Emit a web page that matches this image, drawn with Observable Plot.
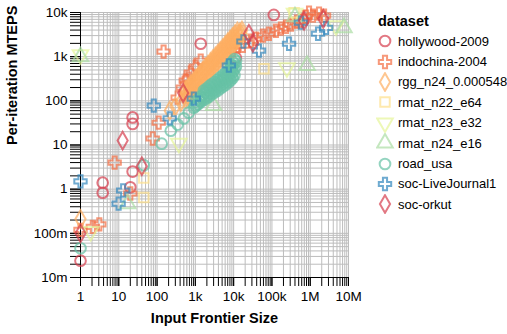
<!DOCTYPE html>
<html>
<head>
<meta charset="utf-8">
<script src="https://cdn.jsdelivr.net/npm/d3@7"></script>
<script src="https://cdn.jsdelivr.net/npm/@observablehq/plot@0.6"></script>
<style>
  body { margin: 0; background: #fff; font-family: Arial, "Liberation Sans", Helvetica, sans-serif; }
  #wrap { position: relative; width: 507px; height: 334px; overflow: hidden; }
  #chart { position: absolute; left: 0; top: 0; }
  #legend { position: absolute; left: 376px; top: 11px; color: #000; }
  #legend .title { font-weight: bold; font-size: 14.5px; height: 20px; line-height: 20px; margin-left: 2px; }
  #legend .row { display: flex; align-items: center; height: 20.4px; font-size: 13px; }
  #legend .row svg { width: 22px; height: 20px; flex: none; }
</style>
</head>
<body>
<div id="wrap"><div id="chart"></div><div id="legend"></div></div>
<script>
// ---- data (Input Frontier Size, Per-iteration MTEPS) ----
const datasetNames = ["hollywood-2009", "indochina-2004", "rgg_n24_0.000548", "rmat_n22_e64", "rmat_n23_e32", "rmat_n24_e16", "road_usa", "soc-LiveJournal1", "soc-orkut"];
const datasetColors = ["#d53e4f", "#f46d43", "#fdae61", "#fee08b", "#e6f598", "#abdda4", "#66c2a5", "#3288bd", "#d53e4f"];

const hollywood = [[1,0.024],[3.8,1.4],[3.8,0.83],[20,1.1],[23,2.5],[23,42],[23,30],[1380,1960],[11400,950],[112000,8800]];
const indochina = [[1,0.12],[2.1,0.14],[3.1,0.16],[7.8,4.0],[20,0.8],[77,14],[110,32],[148,1300],[345,118],[468,199],[561,286],[670,318],[758,435],[1020,594],[1380,812],[9530,1370],[12900,1770],[17400,1770],[28200,2300],[38100,2550],[58100,2990],[83400,3310],[127000,3870],[172000,4300],[232000,4770],[314000,5300],[451000,6190],[574000,6520],[776000,8030],[931000,9890],[1180000,8470],[1700000,9400],[2300000,8470]];
const rgg = [[1,0.21],[214,60],[300,75],[420,95],
  [560,110],[560,140],[560,175],[650,130],[650,165],[650,200],[760,150],[760,190],[760,235],
  [880,175],[880,220],[880,270],[1020,200],[1020,255],[1020,310],[1180,235],[1180,295],[1180,360],
  [1370,270],[1370,340],[1370,420],[1590,310],[1590,395],[1590,490],[1840,360],[1840,460],[1840,560],
  [2130,420],[2130,530],[2130,650],[2470,490],[2470,610],[2470,750],[2860,560],[2860,710],[2860,870],
  [3320,650],[3320,820],[3320,1000],[3850,750],[3850,950],[3850,1160],[4460,870],[4460,1100],[4460,1340],
  [5170,1000],[5170,1270],[5170,1550],[6000,1160],[6000,1470],[6000,1800],[6950,1350],[6950,1700],[6950,2080],
  [8050,1560],[8050,1970],[8050,2400],[9330,1800],[9330,2280],[9330,2780],[10800,2090],[10800,2640],[10800,3200],
  [12500,2420],[12500,3050],[12500,3700],[14500,2800],[14500,3500],[16500,3200],[16500,3900]];
const rmat22 = [[45,1.8],[45,0.65],[62000,535],[380000,9900]];
const rmat23 = [[1,1100],[1.85,0.11],[370,11],[246000,560],[390000,9600],[4700000,5000]];
const rmat24 = [[1,1000],[17,0.47],[3000,78],[830000,630],[400000,8000],[7600000,4500]];
const road = [[1,0.046],[45,3.5],[132,10.7],[228,21],[345,29],[500,40],[670,54],[910,70],
  [1000,75],[1000,95],[1100,82],[1200,85],[1200,110],[1300,100],[1400,95],[1400,125],[1520,115],[1650,105],[1650,140],[1650,170],
  [1800,125],[1800,160],[1950,115],[1950,150],[1950,190],[2100,135],[2100,175],[2300,125],[2300,165],[2300,215],
  [2500,150],[2500,200],[2700,140],[2700,185],[2700,240],[2950,170],[2950,220],
  [3200,155],[3200,205],[3200,265],[3500,185],[3500,245],[3800,170],[3800,230],[3800,300],[4150,210],[4150,280],
  [4500,190],[4500,260],[4500,340],[4900,230],[4900,310],[5300,210],[5300,290],[5300,380],[5750,255],[5750,350],
  [6200,230],[6200,320],[6200,430],[6700,290],[6700,390],[7200,260],[7200,360],[7200,480],[7750,320],[7750,440],
  [8300,290],[8300,400],[8300,540],[8300,680],[8900,360],[8900,500],[8900,620],[9500,330],[9500,450],[9500,610],[9500,780],
  [10500,380],[10500,520],[10500,700],[10500,880],[11500,600],[11500,800]];
const socLJ = [[1,1.5],[9.9,0.47],[13,0.93],[82,78],[214,40],[910,112],[7500,630],[18000,2200],[46000,1370],[280000,1960],[570000,5900],[1600000,3300],[2600000,4500]];
const socOrkut = [[1,0.1],[12.6,12.6],[40,3.3],[480,150],[25000,3310],[31800,2070],[690000,6500],[2200000,7200]];

const seriesData = [hollywood, indochina, rgg, rmat22, rmat23, rmat24, road, socLJ, socOrkut];

const xTicks = [1, 10, 100, 1e3, 1e4, 1e5, 1e6, 1e7];
const yTicks = [0.01, 0.1, 1, 10, 100, 1e3, 1e4];

// ---- symbols ----
const sqrt3 = Math.sqrt(3);
const triUp = { draw(ctx, size) { const y = -Math.sqrt(size / (sqrt3 * 3)); ctx.moveTo(0, y * 2); ctx.lineTo(-sqrt3 * y, -y); ctx.lineTo(sqrt3 * y, -y); ctx.closePath(); } };
const triDown = { draw(ctx, size) { const y = -Math.sqrt(size / (sqrt3 * 3)); ctx.moveTo(0, -y * 2); ctx.lineTo(-sqrt3 * y, y); ctx.lineTo(sqrt3 * y, y); ctx.closePath(); } };
const symbols = [d3.symbolCircle, d3.symbolCross, d3.symbolDiamond, d3.symbolSquare, triDown, triUp, d3.symbolCircle, d3.symbolCross, d3.symbolDiamond];
const symbolSizes = [90, 85, 90, 90, 105, 105, 90, 85, 90];

const fmt = d3.format("~s");
const xMinor = d3.scaleLog().domain([1, 1e7]).ticks();
const yMinor = d3.scaleLog().domain([0.01, 1e4]).ticks();

const dotMarks = seriesData.map((data, i) => Plot.dot(data, {
  x: d => d[0], y: d => d[1],
  symbol: symbols[i],
  r: Math.sqrt(symbolSizes[i] / Math.PI),
  fill: "none",
  stroke: datasetColors[i],
  strokeWidth: 2,
  strokeOpacity: 0.7
}));

const chart = Plot.plot({
  width: 370,
  height: 334,
  marginLeft: 80,
  marginRight: 22,
  marginTop: 12,
  marginBottom: 57,
  style: { fontFamily: "Arial, 'Liberation Sans', Helvetica, sans-serif", fontSize: "13.5px", background: "#fff", color: "#000" },
  x: { type: "log", domain: [1, 1e7] },
  y: { type: "log", domain: [0.01, 1e4] },
  marks: [
    Plot.gridX(xMinor, { stroke: "#bdbdbd", strokeOpacity: 1 }),
    Plot.gridY(yMinor, { stroke: "#bdbdbd", strokeOpacity: 1 }),
    Plot.axisX(xMinor, { tickSize: 9, fill: "none", label: null, stroke: "#000" }),
    Plot.axisX(xTicks, { tickSize: 9, tickPadding: 5, tickFormat: fmt, label: null, stroke: "#000", fill: "#000" }),
    Plot.axisY(yMinor, { tickSize: 10, fill: "none", label: null, stroke: "#000" }),
    Plot.axisY(yTicks, { tickSize: 10, tickPadding: 3, tickFormat: fmt, label: null, stroke: "#000", fill: "#000" }),
    Plot.ruleX([1], { stroke: "#000" }),
    Plot.ruleY([0.01], { stroke: "#000" }),
    ...dotMarks,
    Plot.text(["Input Frontier Size"], { text: d => d, frameAnchor: "bottom", dy: 45, fontWeight: "bold", fontSize: 14.5, fill: "#000" }),
    Plot.text(["Per-iteration MTEPS"], { text: d => d, frameAnchor: "left", dx: -68, rotate: -90, fontWeight: "bold", fontSize: 14.5, fill: "#000" })
  ]
});
document.getElementById("chart").appendChild(chart);

// ---- legend ----
const legend = document.getElementById("legend");
const t = document.createElement("div");
t.className = "title";
t.textContent = "dataset";
legend.appendChild(t);
datasetNames.forEach((name, i) => {
  const row = document.createElement("div");
  row.className = "row";
  const svg = d3.create("svg").attr("width", 22).attr("height", 20);
  svg.append("path")
    .attr("transform", "translate(9,10)")
    .attr("d", d3.symbol(symbols[i], symbolSizes[i])())
    .attr("fill", "none")
    .attr("stroke", datasetColors[i])
    .attr("stroke-width", 2)
    .attr("stroke-opacity", 0.7);
  row.appendChild(svg.node());
  const span = document.createElement("span");
  span.textContent = name;
  row.appendChild(span);
  legend.appendChild(row);
});
</script>
</body>
</html>
